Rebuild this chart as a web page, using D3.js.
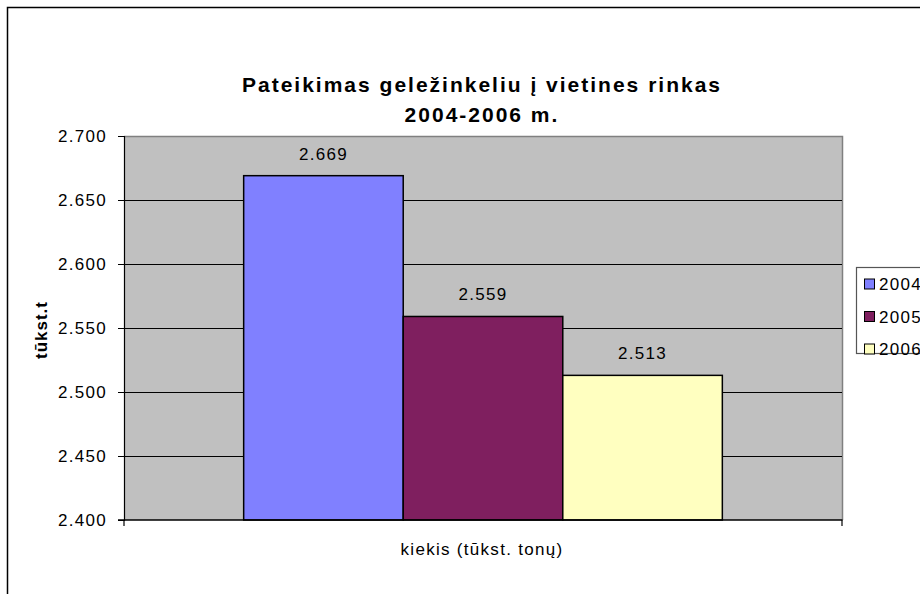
<!DOCTYPE html>
<html>
<head>
<meta charset="utf-8">
<script src="https://cdn.jsdelivr.net/npm/d3@7"></script>
<style>
  body { margin: 0; background: #fff; }
  text { font-family: "Liberation Sans", Arial, sans-serif; }
</style>
</head>
<body>
<div id="chart"></div>
<script>
// duomenys
var years = ["2004", "2005", "2006"];
var values = [2.669, 2.559, 2.513];
var colors = ["#8080ff", "#7f1f5f", "#ffffc0"];
var yTicks = [2.4, 2.45, 2.5, 2.55, 2.6, 2.65, 2.7];
var titleLines = ["Pateikimas geležinkeliu į vietines rinkas", "2004-2006 m."];
var xTitle = "kiekis (tūkst. tonų)";
var yTitle = "tūkst.t";

var width = 920, height = 594;
var plot = {left: 124, top: 136, right: 842, bottom: 520};
var fs = 17, ls = 1.3;

var svg = d3.select("#chart").append("svg")
    .attr("width", width)
    .attr("height", height);

// ramelis
svg.append("rect")
    .attr("x", 7.5).attr("y", 7.5)
    .attr("width", 1000).attr("height", 1000)
    .attr("fill", "#fff").attr("stroke", "#000").attr("stroke-width", 1.5);

var y = d3.scaleLinear().domain([2.4, 2.7]).range([plot.bottom, plot.top]);

// grupe ir stulpeliai (gap width 150%)
var x = d3.scaleBand().domain(years)
    .range([plot.left + (plot.right - plot.left) / 4.5 * 0.75,
            plot.right - (plot.right - plot.left) / 4.5 * 0.75])
    .padding(0);

// fonas
svg.append("rect")
    .attr("x", plot.left).attr("y", plot.top)
    .attr("width", plot.right - plot.left).attr("height", plot.bottom - plot.top)
    .attr("fill", "#c0c0c0");
svg.append("path")
    .attr("d", "M" + plot.left + "," + (plot.top + 0.5) + "H" + (plot.right + 0.5) + "V" + plot.bottom)
    .attr("fill", "none").attr("stroke", "#808080").attr("stroke-width", 1.5);

// tinklelis
svg.selectAll("line.grid")
    .data(yTicks.slice(1, -1))
    .enter().append("line")
    .attr("class", "grid")
    .attr("x1", plot.left).attr("x2", plot.right)
    .attr("y1", function (d) { return Math.round(y(d)) + 0.5; })
    .attr("y2", function (d) { return Math.round(y(d)) + 0.5; })
    .attr("stroke", "#000").attr("stroke-width", 1);

// stulpeliai
svg.selectAll("rect.bar")
    .data(values)
    .enter().append("rect")
    .attr("class", "bar")
    .attr("x", function (d, i) { return x(years[i]); })
    .attr("y", function (d) { return y(d); })
    .attr("width", x.bandwidth())
    .attr("height", function (d) { return y(2.4) - y(d); })
    .attr("fill", function (d, i) { return colors[i]; })
    .attr("stroke", "#000").attr("stroke-width", 1.5);

// reiksmes
svg.selectAll("text.val")
    .data(values)
    .enter().append("text")
    .attr("class", "val")
    .attr("x", function (d, i) { return x(years[i]) + x.bandwidth() / 2; })
    .attr("y", function (d) { return y(d) - 16; })
    .attr("text-anchor", "middle")
    .attr("font-size", fs).attr("letter-spacing", ls)
    .text(function (d) { return d3.format(".3f")(d); });

// asys
var yAxis = d3.axisLeft(y).tickValues(yTicks).tickSize(6).tickPadding(11)
    .tickFormat(d3.format(".3f"));
var gy = svg.append("g")
    .attr("transform", "translate(" + plot.left + ",0)")
    .call(yAxis);
gy.select(".domain").attr("stroke-width", 1.2);
gy.selectAll("text").attr("font-size", fs).attr("fill", "#000")
    .attr("letter-spacing", ls)
    .attr("font-family", "Liberation Sans, Arial, sans-serif");

svg.append("line")
    .attr("x1", plot.left - 6).attr("x2", plot.right + 0.5)
    .attr("y1", plot.bottom).attr("y2", plot.bottom)
    .attr("stroke", "#000").attr("stroke-width", 1.5);
[plot.left, plot.right].forEach(function (px) {
    svg.append("line")
        .attr("x1", px).attr("x2", px)
        .attr("y1", plot.bottom).attr("y2", plot.bottom + 6)
        .attr("stroke", "#000").attr("stroke-width", 1.2);
});

// pavadinimai
svg.selectAll("text.title")
    .data(titleLines)
    .enter().append("text")
    .attr("class", "title")
    .attr("x", 482)
    .attr("y", function (d, i) { return 92 + i * 30; })
    .attr("text-anchor", "middle")
    .attr("font-size", 21).attr("font-weight", "bold")
    .attr("letter-spacing", 2)
    .text(function (d) { return d; });

svg.append("text")
    .attr("x", 482).attr("y", 555)
    .attr("text-anchor", "middle")
    .attr("font-size", fs).attr("letter-spacing", ls)
    .text(xTitle);

svg.append("text")
    .attr("transform", "translate(47,330) rotate(-90)")
    .attr("text-anchor", "middle")
    .attr("font-size", fs).attr("font-weight", "bold")
    .attr("letter-spacing", 1)
    .text(yTitle);

// legenda
var lg = svg.append("g");
lg.append("rect")
    .attr("x", 856.5).attr("y", 267.5)
    .attr("width", 100).attr("height", 86)
    .attr("fill", "#fff").attr("stroke", "#555").attr("stroke-width", 1.2);
years.forEach(function (yr, i) {
    var cy = 284 + i * 32.5;
    lg.append("rect")
        .attr("x", 864.5).attr("y", cy - 5)
        .attr("width", 10).attr("height", 10)
        .attr("fill", colors[i]).attr("stroke", "#000").attr("stroke-width", 1);
    lg.append("text")
        .attr("x", 879).attr("y", cy + 6)
        .attr("font-size", fs).attr("letter-spacing", ls)
        .text(yr);
});
</script>
</body>
</html>
